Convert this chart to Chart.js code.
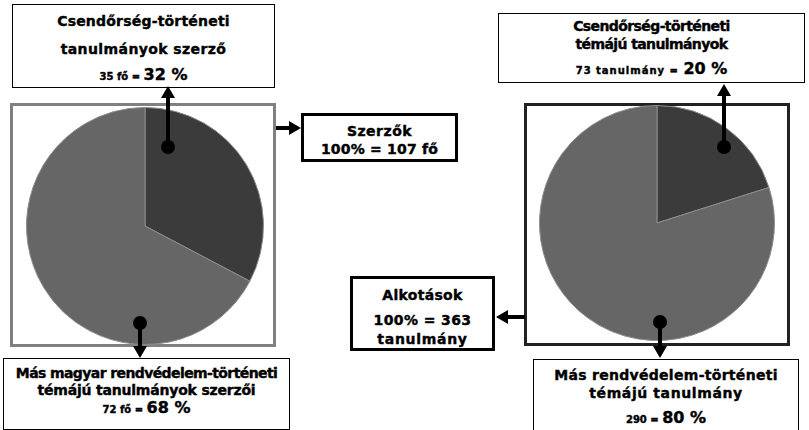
<!DOCTYPE html>
<html>
<head>
<meta charset="utf-8">
<script src="https://cdn.jsdelivr.net/npm/chart.js@4/dist/chart.umd.min.js"></script>
<style>
  body { margin: 0; background: #fff; }
  #page { position: relative; width: 809px; height: 430px; overflow: hidden; background: #fff;
          font-family: "DejaVu Sans", sans-serif; font-weight: bold; color: #000; }
  .box { position: absolute; background: #fff; box-sizing: border-box; }
  .line { position: absolute; left: 0; right: 0; text-align: center; white-space: nowrap; line-height: 16px;
          -webkit-text-stroke: 0.4px #000; }
  canvas { position: absolute; }
  svg { position: absolute; left: 0; top: 0; }
</style>
</head>
<body>
<div id="page">
  <div class="box" style="left:10px;top:103px;width:266px;height:244px;border:3px solid #808080;"></div>
  <div class="box" style="left:524px;top:103px;width:266px;height:243px;border:3px solid #222;"></div>
  <canvas id="authors" width="238" height="238" style="left:26px;top:107px;"></canvas>
  <canvas id="studies" width="236" height="236" style="left:539px;top:105px;"></canvas>
  <div id="labels"></div>
  <svg width="809" height="430" id="arrows"></svg>
</div>
<script>
// Szerzők (authors)
const authorLabels = ['Csendőrség-történeti tanulmányok szerző', 'Más magyar rendvédelem-történeti témájú tanulmányok szerzői'];
const authorCounts = [35, 72];
const authorPct = [32, 68];
const authorTotal = 107;

// Alkotások (studies)
const studyLabels = ['Csendőrség-történeti témájú tanulmányok', 'Más rendvédelem-történeti témájú tanulmány'];
const studyCounts = [73, 290];
const studyPct = [20, 80];
const studyTotal = 363;

const sliceColors = ['#3b3b3b', '#666666'];

function makePie(id, labels, values) {
    const ctx = document.getElementById(id).getContext('2d');
    return new Chart(ctx, {
        type: 'pie',
        data: {
            labels: labels,
            datasets: [{
                data: values,
                backgroundColor: sliceColors,
                borderColor: '#8c8c8c',
                borderWidth: 1
            }]
        },
        options: {
            responsive: false,
            animation: false,
            layout: { padding: 0 },
            plugins: { legend: { display: false }, tooltip: { enabled: false } }
        }
    });
}
makePie('authors', authorLabels, authorCounts);
makePie('studies', studyLabels, studyCounts);

// text boxes
const labelsDiv = document.getElementById('labels');
function addBox(left, top, width, height, border, lines) {
    const box = document.createElement('div');
    box.className = 'box';
    box.style.cssText = `left:${left}px;top:${top}px;width:${width}px;height:${height}px;border:${border};`;
    lines.forEach(l => {
        const d = document.createElement('div');
        d.className = 'line';
        d.style.top = (l.y - top - 8) + 'px';
        d.innerHTML = l.html;
        box.appendChild(d);
    });
    labelsDiv.appendChild(box);
}
const big = (t, ls) => `<span style="font-size:14px;letter-spacing:${ls || 0}px">${t}</span>`;
const small = (t, ls) => `<span style="font-size:10px;letter-spacing:${ls || 0}px">${t}</span>`;
const pct = t => `<span style="font-size:16px">${t}</span>`;

addBox(12, 4, 263, 84, '1px solid #000', [
    { y: 20, html: big('Csendőrség-történeti', 0.2) },
    { y: 48, html: big('tanulmányok szerző', 0.4) },
    { y: 74, html: small(authorCounts[0] + ' fő = ') + pct(authorPct[0] + ' %') }
]);
addBox(301, 113, 157, 49, '3px solid #000', [
    { y: 128, html: big('Szerzők', 0.5) },
    { y: 146, html: big('100% = ' + authorTotal + ' fő', 0.2) }
]);
addBox(3, 358, 287, 72, '1px solid #000', [
    { y: 372, html: big('Más magyar rendvédelem-történeti', -0.6) },
    { y: 389, html: big('témájú tanulmányok szerzői', -0.2) },
    { y: 407, html: small(authorCounts[1] + ' fő = ') + pct(authorPct[1] + ' %') }
]);
addBox(498, 13, 307, 70, '1px solid #000', [
    { y: 25, html: big('Csendőrség-történeti', -0.6) },
    { y: 43, html: big('témájú tanulmányok', -0.6) },
    { y: 68, html: small(studyCounts[0] + ' tanulmány = ', 1) + pct(studyPct[0] + ' %') }
]);
addBox(350, 276, 145, 75, '3px solid #000', [
    { y: 292, html: big('Alkotások', 0.3) },
    { y: 317, html: big('100% = ' + studyTotal, 0.4) },
    { y: 336, html: big('tanulmány', 0.7) }
]);
addBox(533, 359, 266, 80, '1px solid #000', [
    { y: 374, html: big('Más rendvédelem-történeti', 0.3) },
    { y: 392, html: big('témájú tanulmány', 0.6) },
    { y: 417, html: small(studyCounts[1] + ' = ') + pct(studyPct[1] + ' %') }
]);

// arrows and dots
const svg = document.getElementById('arrows');
function el(name, attrs) {
    const e = document.createElementNS('http://www.w3.org/2000/svg', name);
    for (const k in attrs) e.setAttribute(k, attrs[k]);
    svg.appendChild(e);
}
function arrow(x1, y1, x2, y2, dot) {
    const dx = x2 - x1, dy = y2 - y1, len = Math.hypot(dx, dy);
    const ux = dx / len, uy = dy / len;
    const hl = 12, hw = 7;
    const bx = x2 - ux * hl, by = y2 - uy * hl;
    el('line', { x1: x1, y1: y1, x2: bx, y2: by, stroke: '#000', 'stroke-width': 4 });
    el('polygon', { points: `${x2},${y2} ${bx - uy * hw},${by + ux * hw} ${bx + uy * hw},${by - ux * hw}`, fill: '#000' });
    if (dot) el('circle', { cx: x1, cy: y1, r: 7, fill: '#000' });
}
arrow(168, 147, 168, 86, true);
arrow(140, 323, 140, 358, true);
arrow(276, 128, 301, 128, false);
arrow(724, 147, 724, 84, true);
arrow(660, 322, 660, 358, true);
arrow(525, 317, 496, 317, false);
</script>
</body>
</html>
